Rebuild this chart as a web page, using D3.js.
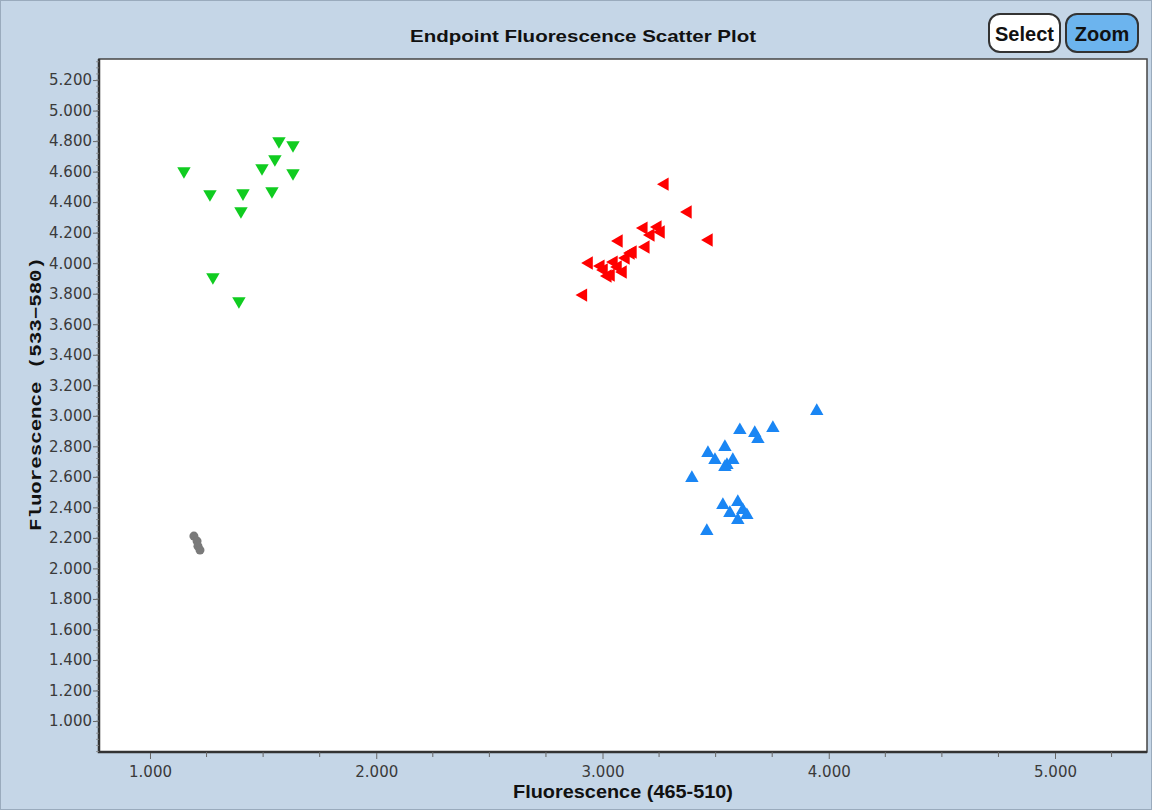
<!DOCTYPE html>
<html>
<head>
<meta charset="utf-8">
<script src="https://cdn.jsdelivr.net/npm/d3@7"></script>
<style>
  html, body { margin: 0; padding: 0; background: #c5d6e7; }
  svg { display: block; }
</style>
</head>
<body>
<div id="chart"></div>
<script>
// green cluster (down triangles)
const greenX = [1.150, 1.265, 1.411, 1.402, 1.278, 1.393, 1.495, 1.552, 1.570, 1.632, 1.632, 1.539];
const greenY = [4.604, 4.453, 4.459, 4.342, 3.909, 3.752, 4.623, 4.682, 4.800, 4.774, 4.591, 4.473];

// red cluster (left triangles)
const redX = [2.915, 2.940, 2.992, 3.006, 3.037, 3.068, 3.090, 3.103, 3.125, 3.134, 3.072, 3.191, 3.182, 3.213, 3.244, 3.258, 3.275, 3.377, 3.470, 3.050, 3.023];
const redY = [3.791, 4.001, 3.981, 3.955, 3.922, 3.975, 3.942, 4.034, 4.066, 4.073, 4.145, 4.106, 4.230, 4.184, 4.237, 4.204, 4.518, 4.335, 4.152, 4.007, 3.916];

// blue cluster (up triangles)
const blueX = [3.947, 3.753, 3.673, 3.687, 3.607, 3.541, 3.466, 3.497, 3.550, 3.576, 3.541, 3.395, 3.532, 3.563, 3.598, 3.620, 3.638, 3.598, 3.461];
const blueY = [3.031, 2.920, 2.887, 2.847, 2.906, 2.795, 2.756, 2.710, 2.677, 2.710, 2.664, 2.592, 2.415, 2.363, 2.435, 2.382, 2.349, 2.317, 2.245];

// grey (circles)
const greyX = [1.194, 1.208, 1.212, 1.221];
const greyY = [2.212, 2.179, 2.146, 2.120];

const xTicks = [1, 2, 3, 4, 5];
const yTicks = [1.0, 1.2, 1.4, 1.6, 1.8, 2.0, 2.2, 2.4, 2.6, 2.8, 3.0, 3.2, 3.4, 3.6, 3.8, 4.0, 4.2, 4.4, 4.6, 4.8, 5.0, 5.2];

const width = 1152;
const height = 810;
const plot = { left: 99, right: 1147, top: 59, bottom: 752 };

const x = d3.scaleLinear().domain([0.7746, 5.4066]).range([plot.left, plot.right]);
const y = d3.scaleLinear().domain([0.797, 5.338]).range([plot.bottom, plot.top]);

const svg = d3.select('#chart')
    .append('svg')
    .attr('width', width)
    .attr('height', height);

// background + outer frame
svg.append('rect')
    .attr('x', 0.5).attr('y', 0.5)
    .attr('width', width - 1).attr('height', height - 1)
    .attr('fill', '#c5d6e7')
    .attr('stroke', '#9aabbd');

// plot area
svg.append('rect')
    .attr('x', plot.left).attr('y', plot.top)
    .attr('width', plot.right - plot.left)
    .attr('height', plot.bottom - plot.top)
    .attr('fill', '#ffffff')
    .attr('stroke', '#444')
    .attr('stroke-width', 1.5);

// heavier left / bottom edge
svg.append('path')
    .attr('d', `M${plot.left},${plot.top}V${plot.bottom}H${plot.right}`)
    .attr('fill', 'none')
    .attr('stroke', '#333')
    .attr('stroke-width', 2.5);

// y axis
const yAxis = svg.append('g')
    .attr('transform', `translate(${plot.left - 1},0)`)
    .call(d3.axisLeft(y).tickValues(yTicks).tickSize(5).tickFormat(d3.format('.3f')));
yAxis.select('.domain').remove();
yAxis.selectAll('line').attr('stroke', '#666');
yAxis.selectAll('text')
    .attr('font-family', 'DejaVu Sans, Verdana, sans-serif')
    .attr('font-size', 15)
    .attr('fill', '#3a3a3a')
    .attr('x', -6);

// y minor ticks
const yMinor = d3.range(0.8, 5.34, 0.04);
svg.append('g').selectAll('line')
    .data(yMinor)
    .join('line')
    .attr('x1', plot.left - 3).attr('x2', plot.left)
    .attr('y1', d => y(d)).attr('y2', d => y(d))
    .attr('stroke', '#888')
    .attr('stroke-width', 0.8);

// x axis
const xAxis = svg.append('g')
    .attr('transform', `translate(0,${plot.bottom + 1})`)
    .call(d3.axisBottom(x).tickValues(xTicks).tickSize(6).tickFormat(d3.format('.3f')));
xAxis.select('.domain').remove();
xAxis.selectAll('line').attr('stroke', '#666');
xAxis.selectAll('text')
    .attr('font-family', 'DejaVu Sans, Verdana, sans-serif')
    .attr('font-size', 15)
    .attr('fill', '#3a3a3a')
    .attr('textLength', 43)
    .attr('lengthAdjust', 'spacingAndGlyphs')
    .attr('y', 13);

// x minor ticks
const xMinor = d3.range(1.25, 5.4, 0.25).filter(v => Math.abs(v - Math.round(v)) > 0.01);
svg.append('g').selectAll('line')
    .data(xMinor)
    .join('line')
    .attr('x1', d => x(d)).attr('x2', d => x(d))
    .attr('y1', plot.bottom).attr('y2', plot.bottom + 5)
    .attr('stroke', '#666');

// title
svg.append('text')
    .attr('x', 583).attr('y', 42)
    .attr('text-anchor', 'middle')
    .attr('font-family', 'Liberation Sans, Arial, sans-serif')
    .attr('font-weight', 'bold')
    .attr('font-size', 17)
    .attr('textLength', 346)
    .attr('lengthAdjust', 'spacingAndGlyphs')
    .attr('fill', '#111')
    .text('Endpoint Fluorescence Scatter Plot');

// x label
svg.append('text')
    .attr('x', 623).attr('y', 798)
    .attr('text-anchor', 'middle')
    .attr('font-family', 'Liberation Sans, Arial, sans-serif')
    .attr('font-weight', 'bold')
    .attr('font-size', 18)
    .attr('textLength', 220)
    .attr('lengthAdjust', 'spacingAndGlyphs')
    .attr('fill', '#111')
    .text('Fluorescence (465-510)');

// y label
svg.append('text')
    .attr('transform', 'translate(41,394) rotate(-90)')
    .attr('text-anchor', 'middle')
    .attr('font-family', 'Liberation Mono, DejaVu Sans Mono, monospace')
    .attr('font-weight', 'bold')
    .attr('font-size', 16)
    .attr('textLength', 274)
    .attr('lengthAdjust', 'spacingAndGlyphs')
    .attr('fill', '#111')
    .text('Fluorescence (533\u2212580)');

// buttons
const buttons = [
    { label: 'Select', x: 989, w: 71, fill: '#ffffff' },
    { label: 'Zoom', x: 1066, w: 72, fill: '#6cb4ee' }
];
const btn = svg.append('g').selectAll('g')
    .data(buttons)
    .join('g');
btn.append('rect')
    .attr('x', d => d.x).attr('y', 14)
    .attr('width', d => d.w).attr('height', 38)
    .attr('rx', 11)
    .attr('fill', d => d.fill)
    .attr('stroke', '#333')
    .attr('stroke-width', 2);
btn.append('text')
    .attr('x', d => d.x + d.w / 2).attr('y', 41)
    .attr('text-anchor', 'middle')
    .attr('font-family', 'Liberation Sans, Arial, sans-serif')
    .attr('font-weight', 'bold')
    .attr('font-size', 20)
    .attr('fill', '#111')
    .text(d => d.label);

// points
const marks = svg.append('g');
const tri = d3.symbol().type(d3.symbolTriangle).size(78);

function drawTriangles(xs, ys, color, rot) {
    marks.append('g').selectAll('path')
        .data(xs.map((v, i) => [v, ys[i]]))
        .join('path')
        .attr('d', tri)
        .attr('transform', d => `translate(${x(d[0])},${y(d[1])}) rotate(${rot})`)
        .attr('fill', color);
}

drawTriangles(greenX, greenY, '#10cc20', 180);
drawTriangles(redX, redY, '#ff0000', -90);
drawTriangles(blueX, blueY, '#1a86f4', 0);

marks.append('g').selectAll('circle')
    .data(greyX.map((v, i) => [v, greyY[i]]))
    .join('circle')
    .attr('cx', d => x(d[0]))
    .attr('cy', d => y(d[1]))
    .attr('r', 4.5)
    .attr('fill', '#7a7a7a');
</script>
</body>
</html>
